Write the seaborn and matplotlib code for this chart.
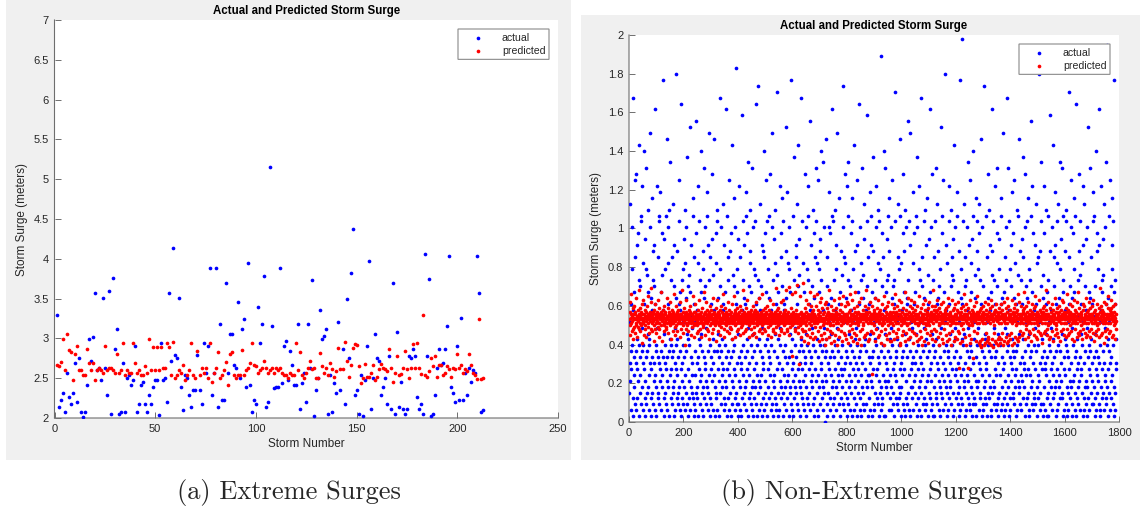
import matplotlib
matplotlib.use("Agg")
import matplotlib.pyplot as plt
import seaborn as sns
import pandas as pd
from matplotlib.patches import Rectangle

# ---------------- Panel (a): extreme surges ----------------
ext_actual = [
    3.30, 2.14, 2.23, 2.32, 2.08, 2.57, 2.26, 2.18, 2.32, 2.69,
    2.20, 2.75, 2.08, 2.01, 2.08, 2.42, 2.99, 2.72, 3.02, 3.57,
    2.60, 2.63, 2.48, 3.51, 2.63, 2.29, 3.60, 2.05, 3.76, 2.87,
    3.12, 2.05, 2.08, 2.69, 2.08, 2.50, 2.54, 2.42, 2.48, 2.91,
    2.08, 2.18, 2.42, 2.45, 2.18, 2.08, 2.29, 2.18, 2.39, 2.48,
    2.48, 2.04, 2.94, 2.48, 2.50, 2.20, 3.57, 2.72, 4.13, 2.79,
    2.75, 3.51, 2.39, 2.10, 2.54, 2.50, 2.29, 2.14, 2.35, 2.35,
    2.79, 2.35, 2.18, 2.94, 2.57, 2.91, 3.88, 2.29, 2.57, 3.88,
    2.14, 3.18, 2.23, 2.23, 3.70, 2.57, 3.06, 3.06, 2.66, 2.63,
    3.46, 2.50, 3.12, 3.24, 2.39, 3.95, 2.42, 2.08, 2.23, 2.18,
    3.39, 2.94, 3.18, 3.79, 2.14, 2.20, 5.15, 3.15, 2.38, 2.39,
    2.39, 3.88, 2.44, 2.90, 2.97, 2.48, 2.84, 2.66, 2.42, 2.41,
    3.18, 2.11, 2.44, 2.57, 2.20, 3.18, 2.63, 3.73, 2.02, 2.35,
    2.50, 3.36, 2.99, 3.03, 3.12, 2.05, 2.54, 2.08, 2.44, 2.32,
    3.21, 2.35, 2.87, 2.17, 3.49, 2.75, 3.82, 4.37, 2.29, 2.35,
    2.05, 2.54, 2.02, 2.48, 2.90, 3.97, 2.11, 2.50, 3.06, 2.75,
    2.72, 2.29, 2.39, 2.50, 2.18, 2.78, 2.11, 3.70, 2.05, 3.08,
    2.14, 2.45, 2.11, 2.05, 2.11, 2.78, 2.75, 2.87, 2.78, 2.26,
    2.11, 2.17, 2.05, 4.06, 2.78, 3.75, 2.02, 2.05, 2.29, 2.63,
    2.87, 2.66, 2.69, 2.87, 3.15, 4.03, 2.39, 2.32, 2.20, 2.90,
    2.23, 3.26, 2.23, 2.56, 2.29, 2.63, 2.45, 2.60, 2.57, 4.03,
    3.57, 2.08, 2.10,
]
ext_predicted = [
    2.66, 2.65, 2.70, 2.99, 2.60, 3.06, 2.86, 2.83, 2.48, 2.81,
    2.91, 2.60, 2.60, 2.54, 2.54, 2.87, 2.69, 2.60, 2.69, 2.48,
    2.60, 2.63, 2.60, 2.57, 2.91, 2.60, 2.63, 2.63, 2.60, 2.57,
    2.80, 2.57, 2.60, 2.94, 2.54, 2.60, 2.57, 2.57, 2.94, 2.69,
    2.57, 2.60, 2.54, 2.54, 2.65, 2.57, 2.99, 2.60, 2.89, 2.60,
    2.89, 2.60, 2.89, 2.63, 2.63, 2.94, 2.89, 2.54, 2.96, 2.50,
    2.54, 2.60, 2.57, 2.66, 2.48, 2.54, 2.60, 2.94, 2.54, 2.50,
    2.84, 2.54, 2.63, 2.57, 2.63, 2.50, 2.94, 2.45, 2.57, 2.63,
    2.83, 2.50, 2.54, 2.60, 2.70, 2.42, 2.81, 2.83, 2.54, 2.50,
    2.54, 2.54, 2.86, 2.54, 2.60, 2.63, 2.69, 2.94, 2.66, 2.65,
    2.57, 2.60, 2.63, 2.72, 2.63, 2.57, 2.60, 2.63, 2.57, 2.63,
    2.60, 2.63, 2.57, 2.54, 2.54, 2.50, 2.57, 2.54, 2.54, 2.94,
    2.60, 2.83,
    2.54, 2.50, 2.56, 2.63, 2.72, 2.61, 2.63, 2.50, 2.50, 2.82,
    2.65, 2.57, 2.63, 2.54, 2.69, 2.61, 2.52, 2.59, 2.88, 2.61,
    2.61, 2.96, 2.72, 2.52, 2.67, 2.88, 2.93, 2.92, 2.65, 2.44,
    2.50, 2.68, 2.52, 2.52, 2.57, 2.67, 2.48, 2.52, 2.61, 2.68,
    2.63, 2.61, 2.59, 2.87, 2.63, 2.45, 2.57, 2.78, 2.54, 2.55,
    2.63, 2.84, 2.61, 2.50, 2.63, 2.93, 2.63, 2.94, 2.63, 2.55,
    3.29, 2.54, 2.51, 2.59, 2.75, 2.65, 2.78, 2.51, 2.67, 2.66,
    2.54, 2.57, 2.65, 2.61, 2.51, 2.63, 2.61, 2.80, 2.63, 2.67,
    2.57, 2.61, 2.59, 2.81, 2.67, 2.57, 2.54, 2.49, 3.25, 2.49,
    2.50,
]
ext_xticks = [0, 50, 100, 150, 200, 250]
ext_yticks = [2, 2.5, 3, 3.5, 4, 4.5, 5, 5.5, 6, 6.5, 7]

# ---------------- Panel (b): non-extreme surges ----------------
# one character per storm;
# actual: level index * 0.1 ft (0.03048 m); predicted: 0.20 m + index * 0.01 m
CODE = "0123456789abcdefghijklmnopqrstuvwxyzABCDEFGHIJKLMNOPQRSTUVWXYZ@#$%"
nonext_actual_code = (
    "57ahB2c9kq xd4jT1bm86 Fs3ca2Gu9e 4w7i1dLo5n b8zy3cgE6a r2d9kK1v47 bq3Hc5pfAm 6e82dxNa1l"
    "94jC5bo3tu a7nR2k8cd6 1Ehgs5b4yz 3a9D7mic2w 8p6bWj1f4v 5adq3z9Mb7 2kx6r1cAe8 hIo4d9b3s5"
    "c6Bu1n7g2a 9lXd4e8t3b 5kFy6m2cj9 1Sa4o7hq3d 6bvA8r2l5x c3Jf1n9e4p 7dm2Oiu6b8 a5g4Cz3k1s"
    "2h8cwP5a6j 4rb1Ee9y7o d3mK8f2c5t 6q1bl4Hx9n a7g3iz6Dc2 5uo8Ns1d4k 3b9Gv7e2pa 8jcM6h1r5w"
    "4y2Ac9fl7b 1dnq5Tx3c8 6ae9Bjk2u4 7m3dhR6b1z 9sc4oF8a2g 5tw1bi7Le3 c6p9Cnd2x4 8Yk5aq3m1f"
    "3vE7b2hs6c 9a1Qj4oy8d 5lu3kb6Dz2 7c9ewI1gn4 a8r5tAd3m6 2Hb7fx1c9q 4py6Sk3ai8 1dVo5e2l7j"
    "6cB3n8ug1b 4ta9Ks2wd5 7h3mF1ye6c 9ql4bz8Ga2 5jdi3xN7o1 8cv6Ar4f2k 3pb9Um5e1h 2aEg7d4sw6"
    "9nC1c5yk8j 3db6lO2t7a 4Dr8hq1bx5 6fm3cW9e2i 1a7zJo4d6g 8sbu5Bk3n9 2Lc7pv6a1e 5Td4hy9r3c"
    "7mi2bGa8x6 1f4qdEz3o9 c5kj2Pb7ua 8n6gA3dl1w 4h9cs7Hy5e 2rb8F1qm6d 3tv9aKo4c7 6Ij2xd5g8b"
    "0e7cMs3n1k 5ax9hD4bw2 8lf6zRc3y7 1ob4jA9dq6 2ug5Ne8ac3 7Cki1mb4t9 6dp8xV3h2s 9aG5rl7cE1"
    "4bz3Io8f6a 2nd7wj5yC1 c9qh4Lb2e8 6ta3gu1Fd5 7m9bSk2xc4 1r8oHa6pl3 5Bd2vi9e7j 3cy6Qn1s8b"
    "8k4aDf2uz7 6bm1tJ9c3h 2ol5eE8dx4 9gr3bAy7a1 5qi6c@2n4w 3sd8Kb1j7f 1H6amv9o5c 7pz2Ct4be8"
    "2xg6dFl3n9 5ak1oy8Ub4 7cei3hB2s6 4dq9Mz5ar1 6bj8wG3c2m 9tf1Ax7d4k 3lb5Po2ey8 1cuN6h9g4a"
    "6Dr2bk7w5a 8mz3cf1Jx9 4di6Eq2o7b 1a5Ts8hn3c 9yl4gA6d2u 3eb7Cj1p8k 5cvR9m4xa2 7Gf3do1i6b"
    "1sy8cH5e4a 3kB9lt2d7n 6bq1Og5wz8 4a2iF7cm3h 9Xd6ju1r5b 2c8yE4kf6a 7An3ps9d1v 5ob2Lg8ex4"
    "9ci7Dz3a5m 1ht6bW2l8q 4e%3kdy9f7 6Bn1sa5o2c 8jx4gI7b3u 2Fd9rm6cv1 5az3Ke8h4p 3lC7b1yt6d"
    "7qg2aBw9o4 5dkM8c1x3n 2ib6Vf4e7z 9a3sh1Gd5l 4cA8ju6m2b 1tp5Ry7d3g 6ok9bE2c8w 3Hn4af1q5v"
    "5e8dzC2k6l 3bi9Nm4a1s 7g2ox5cT3f 8dH6yj1bq4 2nu7aD9e5c 4wl3Fb8r6k 9c1Ah2dpz7 6Mf5ti3a8o"
    "2kv7bJs4e9 6ac1Gx3n8h 4ly5dC9f2q 1o8bzP6c3m 7Ea2wj5d4u 3g9ckB1i6r 8sd4Xh7at2 5nI3yb9e1l"
    "3pw6cE9a2k 8Af4mb1z5o 1dh7Qt3c6j 9gx2aL8e4s 5bn6uDk1c7 2ry9Bd3l8i 6cq4Iv7a5f 4Hm1oz2b9t"
    "8ej3dAy6c1 5hb2Uk9s7n 4ax6Fl1g3w 7dq8mC5b2z 1cSi4e9o6a 3t7Gbp2y8k 9fr5dE1hu4 2aBn6c3vj7"
    "6xg1bO4d9m 2lc8Hs5ek3 7ay3iD6bz1 4nf9cK2t5w 8bq7Ru3ah2 1dE6jo9m4c 5vp2aB8gx7 3kI4$d6l1e"
    "9cz5hF2a7n 4bqu8Cd3y1 6mW2ko5e9a"
).replace(" ", "")
nonext_pred_code = (
    "xGuBpyAvKr wzDsnAxyEt AqBvxIuyzo yCwtMxAsDv zruBxFyAlw vxHyApzsCu BwyoxzEvAJ tAzxqyBwGs"
    "yNvzrAxwBm uCyxFsAzvq xBwyzHtAos DvyAxuBzLw AmxzyCvrEu wAyBxstzIv yxqDzAwBvu GzyxAnvCwr"
    "zBvxKyAptw xEuzAyrBxv CywxzoAvGs yAzMxvBuqx wDyzAkxsBv HxuyAzvrCw zyBxEvApyt xAwzyJuBvo"
    "ByxFvzAqwu yCxzrAvHsy AzwxBoyDvt uxzLAyvBwp yGxAzsvCxr wyBnAxzEuv xzCyAqwIvs BAyxzuvDwm"
    "xzHyAvrBwu zAxCyptvEx yBwzAxKvos AxyDzuwBrv zyGxAvqCwt xAyBzsvFwn yzxAwJvBuo CxyzAvrDws"
    "AyxBzvpwEt zxCyAuqvMw xByzAwrvDs yAzxHvBwuo xzAyBvsCwp zyxAEvwBqt xyCzAvoGwu BxzyAvrIws"
    "yzxAvBwKqu xCyzAvsDwr zAxyBvEwpt xyzAvCwuHo zBxyAvwFrs yxAzBvqwNt xzyCAvwuDp AxzyBvsGwr"
    "zyxAvHwBuq xzCyAvMwrs yAzxBvOwpt xyzDAvwuKe zxByAvwLrs yAxzCvPwqt xzyAavwuJo BxyzAvsQwr"
    "xmAyDzrvHu wBpzyFxlAv ysxLzoAwEu BqyxnzCvJw AtyozxEwyK vyCxrAmzwG tzBxpyIwDn AuxyqBvwFk"
    "yGxnzAsvDw BxoyzMvrAu xElyAqzwCx uHymxAzpBv zDwxkyAsvI xAoyCzrwuF mBxyzJvqAw yxEpzAnwGv"
    "AzlxFyrwBK uyCxoAzsvH wxAmyDzqBv yLxpzAlwEu BvyxnGzrAw xyIkzAsvCx uAxoyEzpBw zMxqyAmvDy"
    "xBnyzGwrAv yEx5zAqvCu BxmyIzswAD yxoAzHvpwB zCxlyAruFv AwyxkzJvsD xzBpyAnwEu yGxqzAmvBw"
    "AyxmzFvrBu xDynzAKwqv BzxoyEvsAH yxCkzAlwGu zBxpyDvrAw xyLmzAqvCy uAxnyIzsBv zExoyAHwrD"
    "yBxlzGwqAv xCypzAmvEu AzxnyJvrBw yxDozAkwFv zAxmyCvsHu xyBqzAlwDv uGxpyAzrBw yxEnzAMvsC"
    "xAmyEzrwBH yCxozAkvDu BzxqyFvnAw yxGlzAsvCx zBxpyDvmAI xyEnzAqwBu AzxkyHvrCw yxDmzAovFv"
    "zAxnyCvrBG x8yqzAlvDu ByxmzEvsAK yxCozAkwFv zAx8yDvpBu xyHlzAnwCv uBxdyAzrEw yxGmzAqvBJ"
    "yAxlzBvmCk xDyjzAnwEv BzxkyGvlAq yxCmzAowFn zBxlyDvkAH xyEnzAjwBq uAxmyCzlFw yxBkzAnvDo"
    "xBylzFvnAq yCxkzAmwGv AzxoyDvlBI yxEmzApwCn zAxqyHvkBw xyDlzAowFu BzxnyCvmAK yxGozArvEw"
    "zAxpyCvqBL xDynzAswEu ByxozGvrAw yxCqzAmvFx zBxsyDvpAJ xyEozAnwBv uAxryHzqCw yxBpzAlvDy"
    "yBxqzEvrAM xCypzAsvGu AzxnyDvoBw yxFrzAmwCv zAxpyIvsBu xyDqzAowEw BzxmyCvrAH yxGszApvBx"
    "xAyozDvsBK yCxpzAqwFu BzxryEvnAw yxHmzAswCv zBxoyGvqAL xyDpzArwBu AzxnyFvsCw yxEqzAovIy"
    "zBxpyCvrAG xDyozAswEv AzxqyHvmBw yxCrzApvFu zAxsyDvoBN xyEpzAqwCv BzxlyGvrAw yxFozAsvDJ"
    "yAxqzCvrBH xDyozApwEu BzxnyFvsAw"
).replace(" ", "")
ACTUAL_STEP = 0.03048
PRED_BASE, PRED_STEP = 0.20, 0.01
nonext_actual = [CODE.index(c) * ACTUAL_STEP for c in nonext_actual_code]
nonext_predicted = [PRED_BASE + CODE.index(c) * PRED_STEP for c in nonext_pred_code]
nonext_xticks = [0, 200, 400, 600, 800, 1000, 1200, 1400, 1600, 1800]
nonext_yticks = [0, 0.2, 0.4, 0.6, 0.8, 1, 1.2, 1.4, 1.6, 1.8, 2]

title_text = "Actual and Predicted Storm Surge"
xlabel_text = "Storm Number"
ylabel_text = "Storm Surge (meters)"
captions = ["(a) Extreme Surges", "(b) Non-Extreme Surges"]
series_names = ["actual", "predicted"]

# ---------------- styling ----------------
sns.set_theme(style="white")
plt.rcParams["font.family"] = ["Liberation Sans", "DejaVu Sans"]
plt.rcParams["path.snap"] = False

W, H = 1141, 509
fig = plt.figure(figsize=(W / 100, H / 100), dpi=100)
fig.patch.set_facecolor("white")

fig.patches.append(Rectangle((6 / W, 1 - 460 / H), 565 / W, 460 / H, transform=fig.transFigure,
                             facecolor="#f0f0f0", edgecolor="none", zorder=-10))
fig.patches.append(Rectangle((581 / W, 1 - 460 / H), 559 / W, 445 / H, transform=fig.transFigure,
                             facecolor="#f0f0f0", edgecolor="none", zorder=-10))

ax1 = fig.add_axes([54.5 / W, 1 - 418 / H, 503.5 / W, 398 / H])
ax2 = fig.add_axes([629 / W, 1 - 422 / H, 490 / W, 387 / H])

BLUE = "#0000ff"
RED = "#ff0000"
AXC = "#6e6e6e"
TXC = "#262626"


def draw(ax, actual, predicted, xlim, ylim, xticks, yticks):
    dfa = pd.DataFrame({"n": range(1, len(actual) + 1), "v": actual})
    dfp = pd.DataFrame({"n": range(1, len(predicted) + 1), "v": predicted})
    sns.scatterplot(data=dfa, x="n", y="v", color=BLUE, s=7, linewidth=0, ax=ax,
                    label=series_names[0], zorder=3)
    sns.scatterplot(data=dfp, x="n", y="v", color=RED, s=7, linewidth=0, ax=ax,
                    label=series_names[1], zorder=4)
    for coll in ax.collections:
        coll.set_snap(False)
    ax.set_xlim(*xlim)
    ax.set_ylim(*ylim)
    ax.set_xticks(xticks)
    ax.set_yticks(yticks)
    ax.set_xticklabels([str(t) for t in xticks])
    ax.set_yticklabels(["%g" % t for t in yticks])
    ax.set_facecolor("white")
    for side in ["top", "right"]:
        ax.spines[side].set_visible(False)
    for side in ["left", "bottom"]:
        ax.spines[side].set_color(AXC)
        ax.spines[side].set_linewidth(0.8)
    ax.tick_params(direction="in", length=4, width=0.7, color=AXC, labelsize=8,
                   labelcolor=TXC, pad=4, left=True, bottom=True)
    ax.set_xlabel(xlabel_text, fontsize=8.5, color=TXC, labelpad=3)
    ax.set_ylabel(ylabel_text, fontsize=8.5, color=TXC, labelpad=4)
    ax.set_title(title_text, fontsize=8.3, fontweight="bold", color="black", pad=4)
    leg = ax.legend(loc="upper right", bbox_to_anchor=(1 - 9 / ax.bbox.width, 1 - 9 / ax.bbox.height),
                    borderaxespad=0, fontsize=7.6, frameon=True, fancybox=False,
                    handlelength=3.0, handletextpad=0.8, labelspacing=0.28, borderpad=0.35)
    leg.get_frame().set_edgecolor("#8a8a8a")
    leg.get_frame().set_linewidth(0.8)
    leg.get_frame().set_facecolor("white")
    leg.get_frame().set_alpha(1)
    for t in leg.get_texts():
        t.set_color(TXC)


draw(ax1, ext_actual, ext_predicted, (0, 250), (2, 7), ext_xticks, ext_yticks)
draw(ax2, nonext_actual, nonext_predicted, (0, 1800), (0, 2), nonext_xticks, nonext_yticks)

fig.text(289 / W, 1 - 493 / H, captions[0], ha="center", va="center", fontsize=19, family="cmr10")
fig.text(862 / W, 1 - 493 / H, captions[1], ha="center", va="center", fontsize=19, family="cmr10")

fig.savefig("out.png", dpi=100, facecolor="white")
